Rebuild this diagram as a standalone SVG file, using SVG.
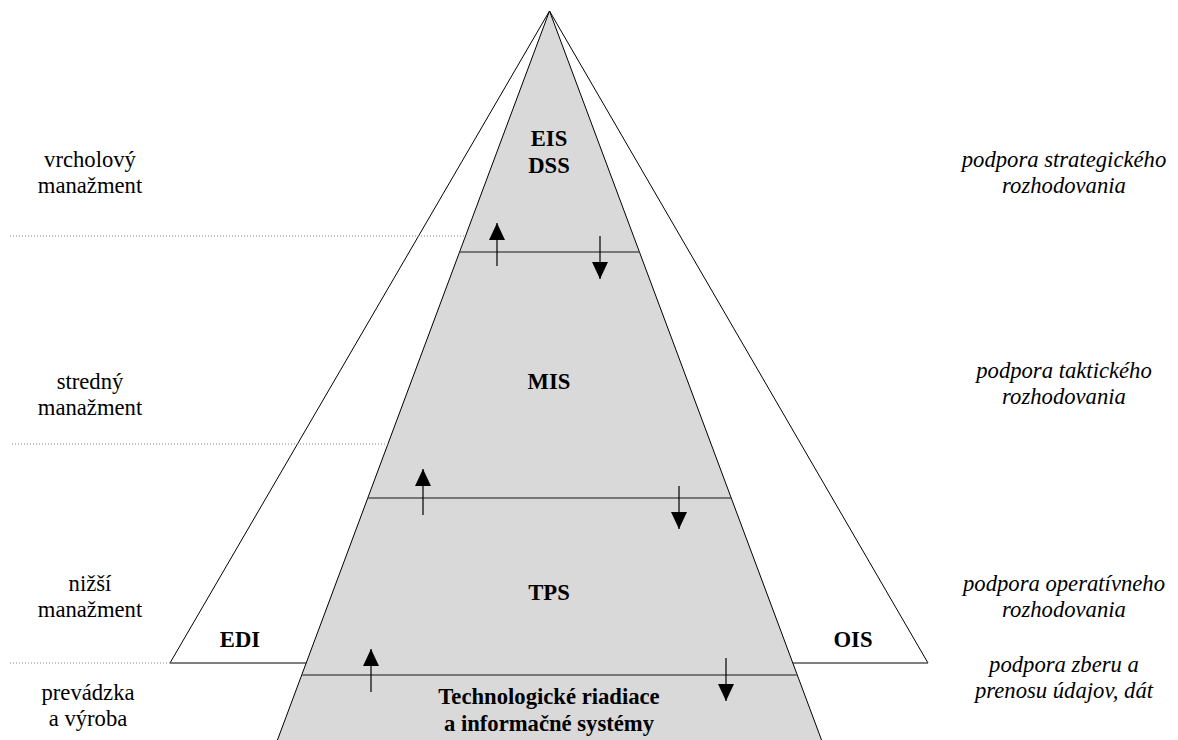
<svg xmlns="http://www.w3.org/2000/svg" width="1178" height="740" viewBox="0 0 1178 740">
  <defs>
    <style>
      .edge { stroke: #000; stroke-width: 1; fill: none; }
      .sep { stroke: #555; stroke-width: 1.6; fill: none; }
      .dot { stroke: #888; stroke-width: 1; stroke-dasharray: 1 2; fill: none; }
      .shaft { stroke: #000; stroke-width: 1.2; fill: none; }
    </style>
    <marker id="head" viewBox="0 0 17 16" refX="17" refY="8" markerWidth="17" markerHeight="16" markerUnits="userSpaceOnUse" orient="auto">
      <path d="M0,0 L17,8 L0,16 Z" fill="#000"/>
    </marker>
  </defs>
  <rect width="1178" height="740" fill="#fff"/>

  <!-- outer pyramid (EDI / OIS wings) -->
  <g id="outer-pyramid">
    <polygon points="549.5,11 170,663 928,663" fill="#fff" stroke="none"/>
    <path class="edge" d="M170,663 L549.5,11 L928,663"/>
    <line class="sep" x1="170" y1="663" x2="928" y2="663"/>
  </g>

  <!-- inner pyramid of information systems -->
  <g id="inner-pyramid">
    <polygon points="549.5,11 270,760 829,760" fill="#d9d9d9" stroke="#000" stroke-width="1"/>
  </g>

  <!-- level separators -->
  <g id="separators">
    <line class="sep" x1="459.6" y1="252" x2="639.4" y2="252"/>
    <line class="sep" x1="367.8" y1="498" x2="731.2" y2="498"/>
    <line class="sep" x1="302.2" y1="675" x2="796.8" y2="675"/>
  </g>

  <!-- dotted level guides on the left -->
  <g id="guides">
    <line class="dot" x1="10" y1="236" x2="465" y2="236"/>
    <line class="dot" x1="12" y1="444" x2="388" y2="444"/>
    <line class="dot" x1="10" y1="663" x2="170" y2="663"/>
  </g>

  <!-- information flow between levels -->
  <g id="connectors">
    <line class="shaft" x1="497" y1="266" x2="497" y2="223" marker-end="url(#head)"/>
    <line class="shaft" x1="600" y1="236" x2="600" y2="279" marker-end="url(#head)"/>
    <line class="shaft" x1="423" y1="515" x2="423" y2="469" marker-end="url(#head)"/>
    <line class="shaft" x1="679" y1="486" x2="679" y2="529" marker-end="url(#head)"/>
    <line class="shaft" x1="371" y1="692" x2="371" y2="649" marker-end="url(#head)"/>
    <line class="shaft" x1="726" y1="658" x2="726" y2="701" marker-end="url(#head)"/>
  </g>

  <g font-family="Liberation Serif, Times New Roman, DejaVu Serif, serif" font-size="22.67" fill="#000" text-anchor="middle">
    <!-- system labels -->
    <g font-weight="bold">
      <g id="node-eis-dss">
        <text x="549" y="146">EIS</text>
        <text x="549" y="173">DSS</text>
      </g>
      <g id="node-mis">
        <text x="549" y="389">MIS</text>
      </g>
      <g id="node-tps">
        <text x="549" y="600">TPS</text>
      </g>
      <g id="node-tech">
        <text x="549" y="704">Technologické riadiace</text>
        <text x="549" y="731">a informačné systémy</text>
      </g>
      <g id="node-edi">
        <text x="240" y="647">EDI</text>
      </g>
      <g id="node-ois">
        <text x="853" y="647">OIS</text>
      </g>
    </g>

    <!-- management levels -->
    <g id="level-top">
      <text x="90" y="167">vrcholový</text>
      <text x="90" y="193">manažment</text>
    </g>
    <g id="level-middle">
      <text x="90" y="389">stredný</text>
      <text x="90" y="415">manažment</text>
    </g>
    <g id="level-lower">
      <text x="90" y="591">nižší</text>
      <text x="90" y="617">manažment</text>
    </g>
    <g id="level-operations">
      <text x="88" y="700">prevádzka</text>
      <text x="88" y="726">a výroba</text>
    </g>

    <!-- kinds of decision support -->
    <g font-style="italic">
      <g id="support-strategic">
        <text x="1064" y="167">podpora strategického</text>
        <text x="1064" y="193">rozhodovania</text>
      </g>
      <g id="support-tactical">
        <text x="1064" y="378">podpora taktického</text>
        <text x="1064" y="404">rozhodovania</text>
      </g>
      <g id="support-operative">
        <text x="1064" y="591">podpora operatívneho</text>
        <text x="1064" y="617">rozhodovania</text>
      </g>
      <g id="support-data">
        <text x="1064" y="672">podpora zberu a</text>
        <text x="1064" y="698">prenosu údajov, dát</text>
      </g>
    </g>
  </g>
</svg>
